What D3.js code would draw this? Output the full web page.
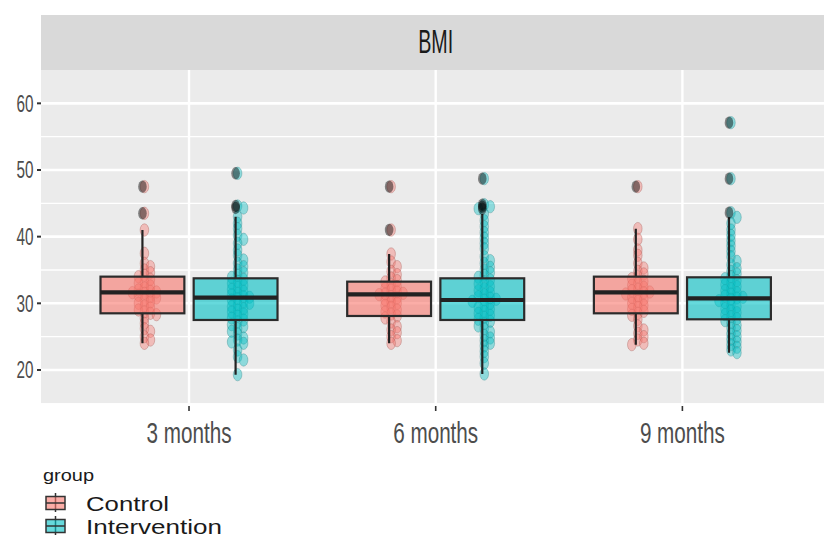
<!DOCTYPE html>
<html lang="en">
<head>
  <meta charset="utf-8">
  <title>BMI boxplot by group</title>
  <script src="https://d3js.org/d3.v7.min.js"></script>
  <style>
    body { margin: 0; background: #fff; font-family: "Liberation Sans", Arial, sans-serif; }
    svg { display: block; }
  </style>
</head>
<body>
<script>
  // ----------------------------------------------------
  // Data
  // ----------------------------------------------------
  const timepoints = ["3 months", "6 months", "9 months"];
  const groups = ["Control", "Intervention"];
  const groupColors = ["#F8766D", "#00BFC4"];
  const pointEdge = ["#a0524c", "#2e8486"];

  // raw BMI values, one array per time point and group
  const control3 = [47.5, 43.5, 41.0, 37.5, 36.0, 35.5, 35.0, 34.6, 34.2, 34.0, 33.6, 33.2, 33.0, 32.6,
    32.3, 32.0, 31.8, 31.7, 31.6, 31.5, 31.2, 31.0, 30.8, 30.5, 30.2, 30.0, 29.6, 29.3, 29.0, 28.7,
    28.5, 28.3, 27.8, 27.0, 26.2, 25.8, 25.0, 24.5, 24.0];
  const intervention3 = [49.5, 44.6, 44.3, 43.0, 42.0, 41.2, 40.2, 39.6, 39.0, 38.0, 37.2, 36.5, 36.0,
    35.5, 35.0, 34.6, 34.2, 33.9, 33.6, 33.3, 33.0, 32.7, 32.4, 32.1, 31.8, 31.5, 31.3, 31.0, 30.9,
    30.7, 30.5, 30.2, 30.0, 29.8, 29.5, 29.2, 29.0, 28.7, 28.4, 28.1, 27.8, 27.5, 27.2, 26.8, 26.5,
    26.2, 25.8, 25.4, 24.8, 24.5, 24.2, 24.0, 23.0, 22.0, 21.5, 19.3];
  const control6 = [47.5, 41.0, 37.4, 36.2, 35.5, 34.8, 34.3, 33.8, 33.4, 33.2, 32.8, 32.5, 32.2, 32.0,
    31.7, 31.5, 31.4, 31.3, 31.0, 30.8, 30.5, 30.2, 30.0, 29.7, 29.4, 29.0, 28.7, 28.4, 28.1, 27.8,
    27.2, 26.5, 26.0, 25.6, 25.0, 24.4, 24.0];
  const intervention6 = [48.7, 44.8, 44.5, 44.2, 43.4, 42.4, 41.5, 40.6, 39.8, 39.0, 38.2, 37.0, 36.4,
    36.0, 35.4, 35.0, 34.6, 34.2, 33.9, 33.5, 33.2, 32.9, 32.5, 32.2, 31.9, 31.6, 31.3, 31.0, 30.8,
    30.6, 30.5, 30.3, 30.0, 29.7, 29.4, 29.1, 28.8, 28.5, 28.2, 27.9, 27.6, 27.3, 27.0, 26.6, 26.2,
    25.7, 25.2, 24.8, 24.4, 24.0, 23.6, 22.8, 22.0, 21.0, 19.4];
  const control9 = [47.5, 41.2, 39.6, 38.0, 37.2, 36.0, 35.3, 34.8, 34.4, 34.0, 33.7, 33.3, 33.0, 32.7,
    32.4, 32.1, 31.9, 31.7, 31.6, 31.4, 31.1, 30.9, 30.6, 30.3, 30.0, 29.7, 29.4, 29.1, 28.8, 28.5,
    28.2, 27.6, 26.6, 26.0, 25.5, 25.0, 24.5, 24.0, 23.8];
  const intervention9 = [57.1, 48.7, 43.6, 42.9, 42.0, 41.0, 40.2, 39.4, 38.6, 37.8, 37.0, 36.3, 35.8,
    35.2, 34.8, 34.4, 34.0, 33.7, 33.4, 33.1, 32.8, 32.5, 32.2, 31.9, 31.6, 31.4, 31.1, 30.9, 30.8,
    30.6, 30.4, 30.1, 29.8, 29.5, 29.2, 28.9, 28.6, 28.3, 28.0, 27.7, 27.4, 27.1, 26.7, 26.3, 25.9,
    25.4, 25.0, 24.6, 24.2, 23.8, 23.4, 23.0, 22.6];

  // box statistics, ordered 3m C, 3m I, 6m C, 6m I, 9m C, 9m I
  const boxTime = ["3 months", "3 months", "6 months", "6 months", "9 months", "9 months"];
  const boxGroup = ["Control", "Intervention", "Control", "Intervention", "Control", "Intervention"];
  const boxValues = [control3, intervention3, control6, intervention6, control9, intervention9];
  const whiskerLow = [24.0, 19.3, 24.0, 19.4, 23.8, 22.6];
  const q1 = [28.5, 27.5, 28.1, 27.5, 28.5, 27.6];
  const median = [31.65, 30.85, 31.35, 30.5, 31.65, 30.75];
  const q3 = [34.0, 33.75, 33.25, 33.75, 34.0, 33.9];
  const whiskerHigh = [41.0, 43.0, 37.4, 43.4, 41.2, 42.9];

  const yTicks = [20, 30, 40, 50, 60];
  const yMinor = [25, 35, 45, 55];

  // ----------------------------------------------------
  // Layout
  // ----------------------------------------------------
  const width = 824, height = 537;
  const panel = { left: 41, top: 70, bottom: 403.3, right: 830.4 };
  const stripTop = 15;

  const svg = d3.select("body").append("svg")
    .attr("width", width)
    .attr("height", height);

  const x = d3.scalePoint()
    .domain(timepoints)
    .range([panel.left, panel.right])
    .padding(0.6);

  const dodge = d3.scaleBand()
    .domain(groups)
    .range([-88.5, 88.5])
    .paddingInner(0.1);

  const y = d3.scaleLinear()
    .domain([15, 65])
    .range([panel.bottom, panel.top]);

  const color = d3.scaleOrdinal().domain(groups).range(groupColors);
  const edge = d3.scaleOrdinal().domain(groups).range(pointEdge);

  const boxes = boxTime.map((t, i) => ({
    time: t,
    group: boxGroup[i],
    values: boxValues[i],
    lo: whiskerLow[i], q1: q1[i], med: median[i], q3: q3[i], hi: whiskerHigh[i],
    cx: x(t) + dodge(boxGroup[i]) + dodge.bandwidth() / 2
  }));

  const defs = svg.append("defs");
  // clip so the panel runs off the right edge like the source
  defs.append("clipPath").attr("id", "panelClip")
    .append("rect")
    .attr("x", panel.left).attr("y", panel.top)
    .attr("width", width - panel.left).attr("height", panel.bottom - panel.top);
  defs.append("filter").attr("id", "soft")
    .append("feGaussianBlur").attr("stdDeviation", 0.6);

  // strip
  svg.append("rect")
    .attr("x", panel.left).attr("y", stripTop)
    .attr("width", width - panel.left).attr("height", panel.top - stripTop)
    .attr("fill", "#D9D9D9");

  svg.append("text")
    .attr("x", (panel.left + panel.right) / 2)
    .attr("y", 53)
    .attr("text-anchor", "middle")
    .attr("font-size", 34)
    .attr("fill", "#1A1A1A")
    .attr("textLength", 35)
    .attr("lengthAdjust", "spacingAndGlyphs")
    .text("BMI");

  // panel background + grid
  const plot = svg.append("g").attr("clip-path", "url(#panelClip)");

  plot.append("rect")
    .attr("x", panel.left).attr("y", panel.top)
    .attr("width", width - panel.left).attr("height", panel.bottom - panel.top)
    .attr("fill", "#EBEBEB");

  plot.selectAll(".minor")
    .data(yMinor)
    .join("line")
    .attr("x1", panel.left).attr("x2", width)
    .attr("y1", d => y(d)).attr("y2", d => y(d))
    .attr("stroke", "#fff").attr("stroke-width", 1.3);

  plot.selectAll(".major")
    .data(yTicks)
    .join("line")
    .attr("x1", panel.left).attr("x2", width)
    .attr("y1", d => y(d)).attr("y2", d => y(d))
    .attr("stroke", "#fff").attr("stroke-width", 2.6);

  plot.selectAll(".vmajor")
    .data(timepoints)
    .join("line")
    .attr("x1", d => x(d)).attr("x2", d => x(d))
    .attr("y1", panel.top).attr("y2", panel.bottom)
    .attr("stroke", "#fff").attr("stroke-width", 2.4);

  // ----------------------------------------------------
  // Points: spread points that sit close together (beeswarm-like)
  // ----------------------------------------------------
  const rx = 4.3, ry = 6.2;
  const slots = [0, 6, -6, 12, -12, 18, -18];

  boxes.forEach(b => {
    const placed = [];
    const sorted = b.values.slice().sort((a, c) => c - a);
    sorted.forEach(v => {
      const py = y(v);
      let px = b.cx + 2;
      for (const s of slots) {
        const cand = b.cx + 2 + s;
        const clash = placed.some(p => Math.abs(p.y - py) < 5 && Math.abs(p.x - cand) < 5);
        if (!clash) { px = cand; break; }
      }
      placed.push({ x: px, y: py });
    });

    plot.append("g")
      .attr("filter", "url(#soft)")
      .selectAll("ellipse")
      .data(placed)
      .join("ellipse")
      .attr("cx", d => d.x).attr("cy", d => d.y)
      .attr("rx", rx).attr("ry", ry)
      .attr("fill", color(b.group))
      .attr("fill-opacity", 0.4)
      .attr("stroke", edge(b.group))
      .attr("stroke-opacity", 0.35)
      .attr("stroke-width", 1);
  });

  // ----------------------------------------------------
  // Boxplots
  // ----------------------------------------------------
  const bw = dodge.bandwidth();
  const bg = plot.append("g");

  boxes.forEach(b => {
    const g = bg.append("g");
    g.append("line")
      .attr("x1", b.cx).attr("x2", b.cx)
      .attr("y1", y(b.q3)).attr("y2", y(b.hi))
      .attr("stroke", "#222").attr("stroke-width", 2.2);
    g.append("line")
      .attr("x1", b.cx).attr("x2", b.cx)
      .attr("y1", y(b.q1)).attr("y2", y(b.lo))
      .attr("stroke", "#222").attr("stroke-width", 2.2);
    g.append("rect")
      .attr("x", b.cx - bw / 2).attr("y", y(b.q3))
      .attr("width", bw).attr("height", y(b.q1) - y(b.q3))
      .attr("fill", color(b.group)).attr("fill-opacity", 0.6)
      .attr("stroke", "#2b2b2b").attr("stroke-width", 2.2);
    g.append("line")
      .attr("x1", b.cx - bw / 2).attr("x2", b.cx + bw / 2)
      .attr("y1", y(b.med)).attr("y2", y(b.med))
      .attr("stroke", "#222").attr("stroke-width", 4.2);

    const outliers = b.values.filter(v => v > b.hi || v < b.lo);
    g.selectAll(".out")
      .data(outliers)
      .join("ellipse")
      .attr("cx", b.cx).attr("cy", d => y(d))
      .attr("rx", rx).attr("ry", ry)
      .attr("fill", "#000").attr("fill-opacity", 0.45);
  });

  // ----------------------------------------------------
  // Axes
  // ----------------------------------------------------
  const axisG = svg.append("g");

  axisG.selectAll(".ytick")
    .data(yTicks)
    .join("line")
    .attr("x1", 37).attr("x2", 41)
    .attr("y1", d => y(d)).attr("y2", d => y(d))
    .attr("stroke", "#333").attr("stroke-width", 2);

  axisG.selectAll(".ylab")
    .data(yTicks)
    .join("text")
    .attr("x", 33.5)
    .attr("y", d => y(d) + 8.3)
    .attr("text-anchor", "end")
    .attr("font-size", 23)
    .attr("fill", "#4D4D4D")
    .attr("textLength", 17)
    .attr("lengthAdjust", "spacingAndGlyphs")
    .text(d => d);

  axisG.selectAll(".xtick")
    .data(timepoints)
    .join("line")
    .attr("x1", d => x(d)).attr("x2", d => x(d))
    .attr("y1", 406).attr("y2", 411)
    .attr("stroke", "#333").attr("stroke-width", 1.6);

  axisG.selectAll(".xlab")
    .data(timepoints)
    .join("text")
    .attr("x", d => x(d))
    .attr("y", 443)
    .attr("text-anchor", "middle")
    .attr("font-size", 29)
    .attr("fill", "#4D4D4D")
    .attr("textLength", 85)
    .attr("lengthAdjust", "spacingAndGlyphs")
    .text(d => d);

  // ----------------------------------------------------
  // Legend
  // ----------------------------------------------------
  const legend = svg.append("g");

  legend.append("text")
    .attr("x", 43).attr("y", 481)
    .attr("font-size", 16)
    .attr("fill", "#1A1A1A")
    .attr("textLength", 51)
    .attr("lengthAdjust", "spacingAndGlyphs")
    .text("group");

  const legendRows = [503, 526];
  const legendTextLen = [83, 136];

  groups.forEach((g, i) => {
    const cy = legendRows[i];
    const kx = 46, kw = 19;
    legend.append("line")
      .attr("x1", kx + kw / 2).attr("x2", kx + kw / 2)
      .attr("y1", cy - 10).attr("y2", cy + 9)
      .attr("stroke", "#333").attr("stroke-width", 1.5);
    legend.append("rect")
      .attr("x", kx).attr("y", cy - 6.5)
      .attr("width", kw).attr("height", 13)
      .attr("fill", color(g)).attr("fill-opacity", 0.6)
      .attr("stroke", "#333").attr("stroke-width", 1.5);
    legend.append("line")
      .attr("x1", kx).attr("x2", kx + kw)
      .attr("y1", cy).attr("y2", cy)
      .attr("stroke", "#333").attr("stroke-width", 1.5);
    legend.append("text")
      .attr("x", 86).attr("y", cy + 7.5)
      .attr("font-size", 21)
      .attr("fill", "#1A1A1A")
      .attr("textLength", legendTextLen[i])
      .attr("lengthAdjust", "spacingAndGlyphs")
      .text(g);
  });
</script>
</body>
</html>
